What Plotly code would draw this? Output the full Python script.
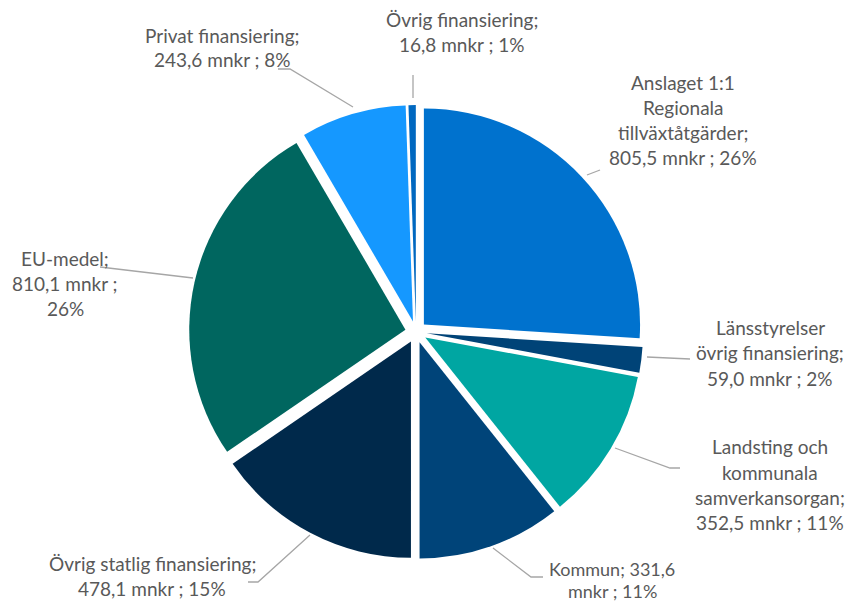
import plotly.graph_objects as go

W, H = 849, 604

categories = [
    "Anslaget 1:1 Regionala tillväxtåtgärder",
    "Länsstyrelser övrig finansiering",
    "Landsting och kommunala samverkansorgan",
    "Kommun",
    "Övrig statlig finansiering",
    "EU-medel",
    "Privat finansiering",
    "Övrig finansiering",
]
values = [805.5, 59.0, 352.5, 331.6, 478.1, 810.1, 243.6, 16.8]
percent_labels = ["26%", "2%", "11%", "11%", "15%", "26%", "8%", "1%"]
value_labels = ["805,5", "59,0", "352,5", "331,6", "478,1", "810,1", "243,6", "16,8"]

colors = ["#0072CE", "#004377", "#00A6A2", "#004479", "#00294B", "#00665F", "#1598FF", "#0068C0"]

# label text lines per slice
label_lines = [
    ["Anslaget 1:1", "Regionala", "tillväxtåtgärder;", f"{value_labels[0]} mnkr ; {percent_labels[0]}"],
    ["Länsstyrelser", "övrig finansiering;", f"{value_labels[1]} mnkr ; {percent_labels[1]}"],
    ["Landsting och", "kommunala", "samverkansorgan;", f"{value_labels[2]} mnkr ; {percent_labels[2]}"],
    [f"Kommun; {value_labels[3]}", f"mnkr ; {percent_labels[3]}"],
    ["Övrig statlig finansiering;", f"{value_labels[4]} mnkr ; {percent_labels[4]}"],
    ["EU-medel;", f"{value_labels[5]} mnkr ;", percent_labels[5]],
    ["Privat finansiering;", f"{value_labels[6]} mnkr ; {percent_labels[6]}"],
    ["Övrig finansiering;", f"{value_labels[7]} mnkr ; {percent_labels[7]}"],
]

# layout positions (pixels): label center x, first line y, line spacing, font size
label_pos = [
    (683, 82, 25.3, 19), (770, 327, 25.5, 19), (770, 447, 25.3, 19), (612, 569, 22, 18),
    (152, 563, 25, 19), (65, 258, 25, 19), (222, 35, 25, 19), (462, 20, 25, 19),
]
leaders = [
    [(587, 175), (600, 170)],
    [(647, 357), (690, 359)],
    [(615, 448), (670, 468), (680, 468)],
    [(493, 548), (531, 577), (543, 577)],
    [(310, 535), (258, 582), (248, 582)],
    [(100, 267), (193, 278)],
    [(278, 69), (290, 69), (353, 107)],
    [(413, 75), (413, 98)],
]

def fx(x):
    return x / W

def fy(y):
    return 1 - y / H

cx, cy, half = 416, 332, 227
fig = go.Figure(go.Pie(
    labels=categories,
    values=values,
    sort=False,
    direction="clockwise",
    rotation=0,
    pull=[0.05] * len(values),
    marker=dict(colors=colors, line=dict(width=0)),
    textinfo="none",
    hoverinfo="label+value+percent",
    showlegend=False,
    domain=dict(x=[fx(cx - half), fx(cx + half)], y=[fy(cy + half), fy(cy - half)]),
))

annotations = []
for lines, (lx, ly, lh, fs) in zip(label_lines, label_pos):
    for i, t in enumerate(lines):
        annotations.append(dict(
            x=fx(lx), y=fy(ly + i * lh), xref="paper", yref="paper",
            text=t, showarrow=False, xanchor="center", yanchor="middle",
            font=dict(family="Lato, Carlito, sans-serif", size=fs, color="#595959"),
        ))

shapes = []
for pts in leaders:
    path = "M " + " L ".join(f"{fx(x)},{fy(y)}" for x, y in pts)
    shapes.append(dict(type="path", path=path, xref="paper", yref="paper",
                       line=dict(color="#A6A6A6", width=1.3)))

fig.update_layout(
    width=W, height=H,
    margin=dict(l=0, r=0, t=0, b=0),
    paper_bgcolor="white", plot_bgcolor="white",
    annotations=annotations, shapes=shapes,
)
fig.write_html(
    "out.html",
    config={"displayModeBar": False},
    post_script="document.body.style.margin='0';document.body.style.overflow='hidden';",
)
